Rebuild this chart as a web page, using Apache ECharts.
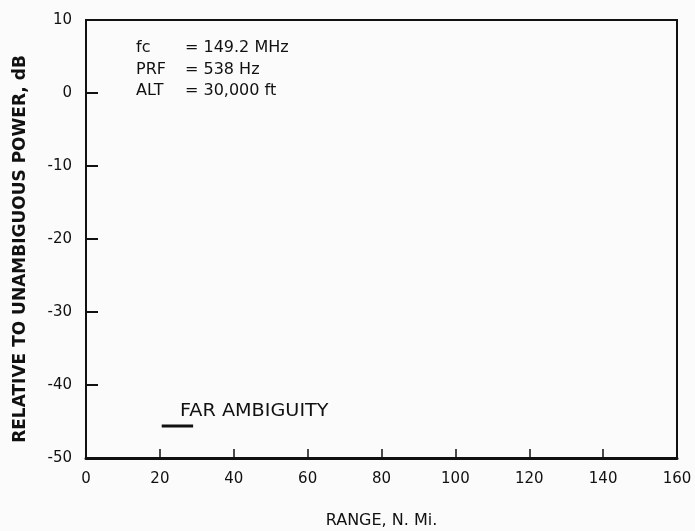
<!DOCTYPE html>
<html>
<head>
<meta charset="utf-8">
<script src="https://cdn.jsdelivr.net/npm/echarts@6/dist/echarts.min.js"></script>
<style>
html,body{margin:0;padding:0;background:#fbfbfb;}
#chart{width:695px;height:531px;}
</style>
</head>
<body>
<div id="chart"></div>
<script>
// Data
var xTicks = [0, 20, 40, 60, 80, 100, 120, 140, 160];
var yTicks = [-50, -40, -30, -20, -10, 0, 10];
var farAmbiguityX = [20.5, 29];
var farAmbiguityY = [-45.6, -45.6];
var paramNames = ['fc', 'PRF', 'ALT'];
var paramValues = ['= 149.2 MHz', '= 538 Hz', '= 30,000 ft'];
var xAxisTitle = 'RANGE, N. Mi.';
var yAxisTitle = 'RELATIVE TO UNAMBIGUOUS POWER, dB';
var seriesLabel = 'FAR AMBIGUITY';

var chart = echarts.init(document.getElementById('chart'));
var ink = '#111';
var font = 'DejaVu Sans';

var lineData = farAmbiguityX.map(function (x, i) { return [x, farAmbiguityY[i]]; });

var graphics = [];
paramNames.forEach(function (n, i) {
  graphics.push({ type: 'text', left: 136, top: 40 + i * 21.5,
    style: { text: n, font: '16px "DejaVu Sans"', fill: ink } });
  graphics.push({ type: 'text', left: 185, top: 40 + i * 21.5,
    style: { text: paramValues[i], font: '16px "DejaVu Sans"', fill: ink } });
});
graphics.push({ type: 'text', x: 180, y: 412, scaleX: 1.13,
  style: { text: seriesLabel, font: '17px "DejaVu Sans"', fill: ink, verticalAlign: 'middle' } });
graphics.push({ type: 'text', x: 21, y: 249, rotation: Math.PI / 2,
  style: { text: yAxisTitle, font: 'bold 17px "DejaVu Sans"', fill: ink, align: 'center', verticalAlign: 'middle' } });

chart.setOption({
  backgroundColor: '#fbfbfb',
  animation: false,
  grid: { left: 86, right: 18, top: 20, bottom: 73, containLabel: false, outerBoundsMode: 'none',
    show: true, borderColor: ink, borderWidth: 2, backgroundColor: 'transparent' },
  xAxis: {
    type: 'value', min: 0, max: 160, interval: 20,
    name: xAxisTitle, nameLocation: 'middle', nameGap: 55,
    nameTextStyle: { fontFamily: font, fontSize: 16, color: ink },
    axisLine: { show: true, onZero: false, lineStyle: { color: ink, width: 3 } },
    axisTick: { show: true, inside: true, length: 9, lineStyle: { color: ink, width: 1.5 } },
    axisLabel: { fontFamily: font, fontSize: 15, color: ink, margin: 14 },
    splitLine: { show: false }
  },
  yAxis: {
    type: 'value', min: -50, max: 10, interval: 10,
    axisLine: { show: true, onZero: false, lineStyle: { color: ink, width: 2 } },
    axisTick: { show: true, inside: true, length: 12, lineStyle: { color: ink, width: 2 } },
    axisLabel: { fontFamily: font, fontSize: 15, color: ink, margin: 14 },
    splitLine: { show: false }
  },
  graphic: graphics,
  series: [{
    type: 'line', data: lineData, symbol: 'none',
    lineStyle: { color: ink, width: 3 }
  }]
});
</script>
</body>
</html>
